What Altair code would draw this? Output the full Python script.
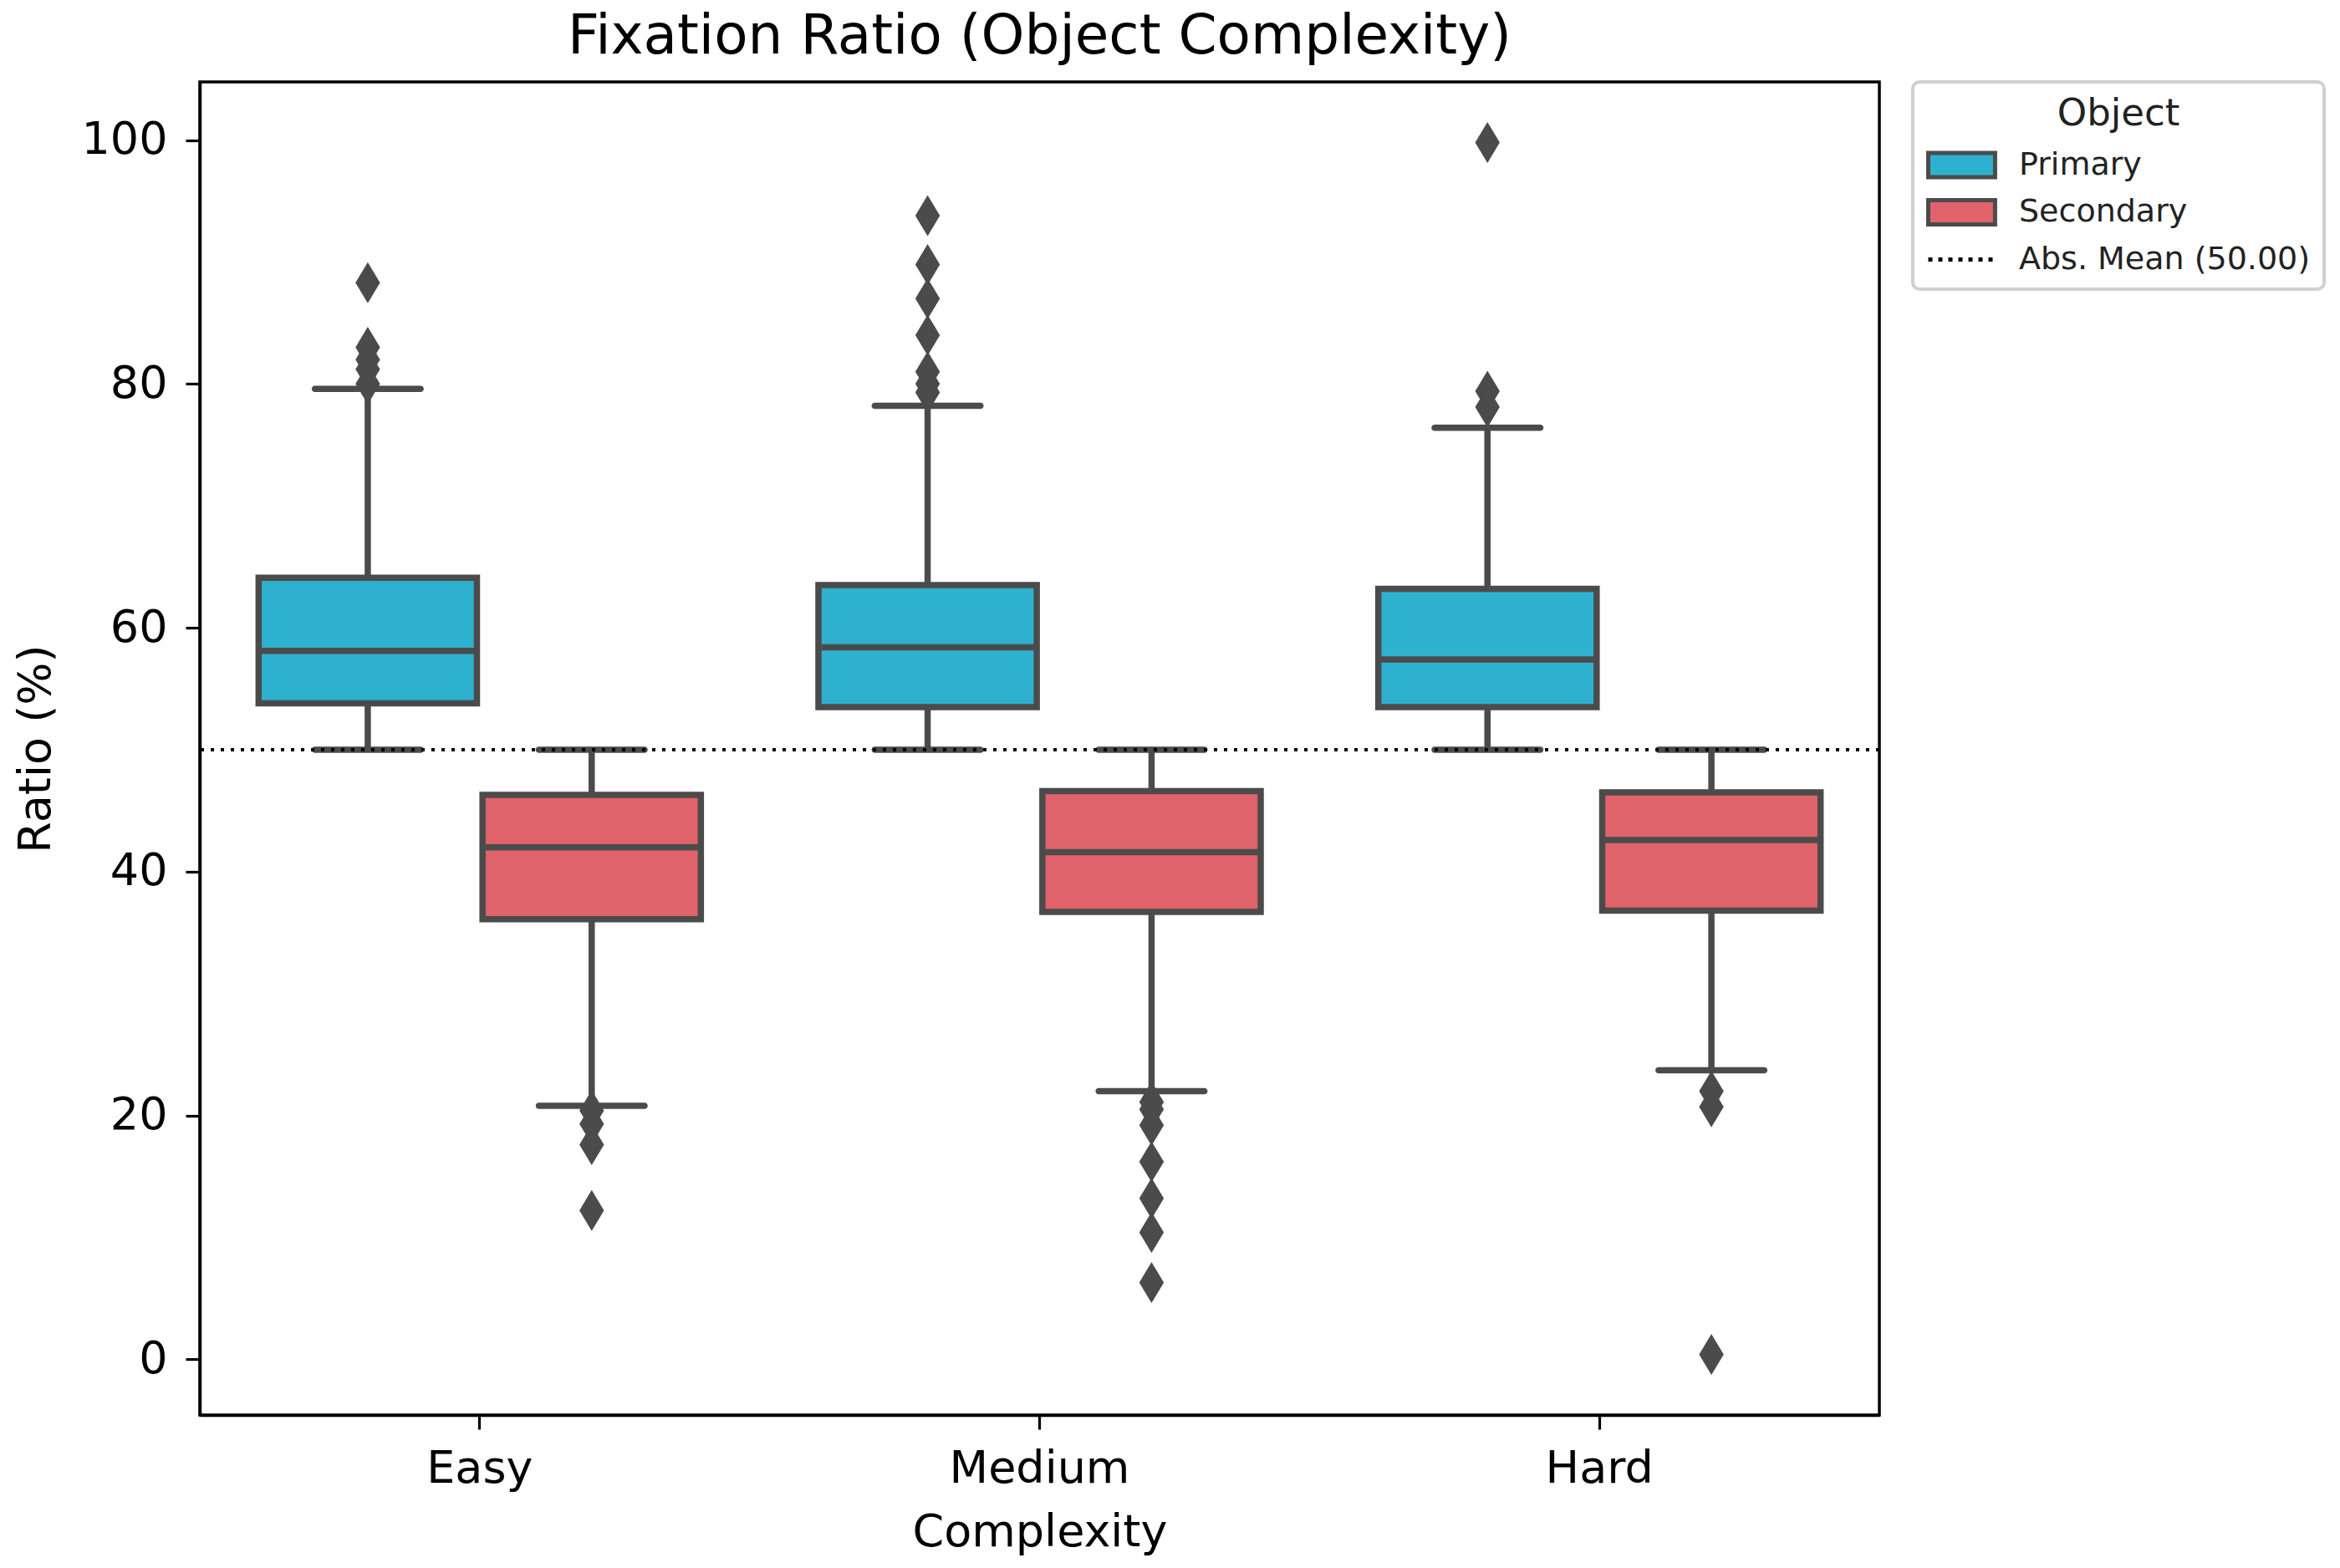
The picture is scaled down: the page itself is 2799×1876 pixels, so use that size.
import altair as alt
import pandas as pd

# ---------------- data ----------------
complexity = ["Easy", "Medium", "Hard"]
objects = ["Primary", "Secondary"]
mean_label = "Abs. Mean (50.00)"
abs_mean = [50.0]

# order: Easy-Primary, Easy-Secondary, Medium-Primary, Medium-Secondary, Hard-Primary, Hard-Secondary
box_complexity = ["Easy", "Easy", "Medium", "Medium", "Hard", "Hard"]
box_object = ["Primary", "Secondary", "Primary", "Secondary", "Primary", "Secondary"]
q1 = [53.8, 36.1, 53.5, 36.7, 53.5, 36.8]
median = [58.1, 42.0, 58.4, 41.6, 57.4, 42.6]
q3 = [64.1, 46.3, 63.5, 46.6, 63.2, 46.5]
whisker_low = [50.0, 20.8, 50.0, 22.0, 50.0, 23.7]
whisker_high = [79.6, 50.0, 78.2, 50.0, 76.4, 50.0]

out_easy_primary = [88.3, 83.0, 82.0, 81.2, 80.0]
out_easy_secondary = [20.4, 19.3, 17.6, 12.2]
out_medium_primary = [93.8, 89.8, 87.0, 84.0, 81.0, 80.0, 79.3]
out_medium_secondary = [21.1, 20.5, 19.2, 16.2, 13.2, 10.4, 6.3]
out_hard_primary = [99.8, 79.4, 78.1]
out_hard_secondary = [22.0, 20.7, 0.4]

# ---------------- styling ----------------
FONT = "DejaVu Sans"
GRAY = "#4b4b4b"
C_PRIMARY = "#2EB0CF"
C_SECONDARY = "#E0636B"
LW = 7.5

W, H = 2009, 1595

# ---------------- tables ----------------
boxes = pd.DataFrame({
    "Complexity": box_complexity, "Object": box_object,
    "q1": q1, "median": median, "q3": q3, "lo": whisker_low, "hi": whisker_high,
})

wh_rows = []
for c, o, a, b, lo, hi in zip(box_complexity, box_object, q1, q3, whisker_low, whisker_high):
    wh_rows.append({"Complexity": c, "Object": o, "y": lo, "y2": a})
    wh_rows.append({"Complexity": c, "Object": o, "y": b, "y2": hi})
whiskers = pd.DataFrame(wh_rows)

caps = pd.DataFrame({
    "Complexity": box_complexity * 2, "Object": box_object * 2,
    "v": whisker_low + whisker_high,
})

out_lists = {
    ("Easy", "Primary"): out_easy_primary, ("Easy", "Secondary"): out_easy_secondary,
    ("Medium", "Primary"): out_medium_primary, ("Medium", "Secondary"): out_medium_secondary,
    ("Hard", "Primary"): out_hard_primary, ("Hard", "Secondary"): out_hard_secondary,
}
out_rows = []
for (c, o), vals in out_lists.items():
    for v in vals:
        out_rows.append({"Complexity": c, "Object": o, "v": v})
outliers = pd.DataFrame(out_rows)

mean_df = pd.DataFrame({"mean": abs_mean})
legend_df = pd.DataFrame({"Object": objects + [mean_label]})

all_vals = q1 + median + q3 + whisker_low + whisker_high + list(outliers["v"])
vmin, vmax = min(all_vals), max(all_vals)
margin = 0.05 * (vmax - vmin)
y_domain = [vmin - margin, vmax + margin]

# ---------------- encodings ----------------
x_enc = alt.X("Complexity:N", sort=complexity,
              scale=alt.Scale(domain=complexity, paddingInner=0, paddingOuter=0),
              axis=alt.Axis(title="Complexity", labelAngle=0, labelLimit=0))
xo_enc = alt.XOffset("Object:N", sort=objects,
                     scale=alt.Scale(domain=objects, paddingInner=0.025, paddingOuter=0.2625))
y_scale = alt.Scale(domain=y_domain, nice=False, zero=False)
y_axis = alt.Axis(title="Ratio (%)", values=[0, 20, 40, 60, 80, 100])

legend_domain = objects + [mean_label]
legend_def = alt.Legend(
    title="Object",
    orient="right",
    offset=40,
    padding=16,
    strokeColor="#d0d0d0",
    cornerRadius=8,
    fillColor="white",
    titleAnchor="middle",
    titleFontSize=45,
    titleFontWeight="normal",
    titleColor="#222222",
    titleFont=FONT,
    titlePadding=12,
    labelFontSize=38,
    labelFont=FONT,
    labelColor="#222222",
    labelOffset=58,
    labelLimit=0,
    symbolSize=2304,
    symbolStrokeWidth=5,
    symbolOpacity=1,
    rowPadding=5.5,
)

fill_scale = alt.Scale(domain=legend_domain, range=[C_PRIMARY, C_SECONDARY, "transparent"])
rect_path = "M-1,-0.6H2.33V0.6H-1Z"
line_path = "M-1,0H2.33"
diamond_path = "M0,-1L0.6,0L0,1L-0.6,0Z"

base_whisk = alt.Chart(whiskers).mark_rule(color=GRAY, strokeWidth=LW).encode(
    x=x_enc, xOffset=xo_enc,
    y=alt.Y("y:Q", scale=y_scale, axis=y_axis), y2="y2:Q",
)

cap_layer = alt.Chart(caps).mark_tick(color=GRAY, size=134, thickness=LW, cornerRadius=3.75, opacity=1).encode(
    x=x_enc, xOffset=xo_enc, y=alt.Y("v:Q", scale=y_scale),
)

box_layer = alt.Chart(boxes).mark_bar(stroke=GRAY, strokeWidth=LW, opacity=1).encode(
    x=x_enc, xOffset=xo_enc,
    y=alt.Y("q1:Q", scale=y_scale), y2="q3:Q",
    fill=alt.Fill("Object:N", scale=fill_scale, legend=legend_def),
)

median_layer = alt.Chart(boxes).mark_tick(color=GRAY, size=262, thickness=LW, opacity=1).encode(
    x=x_enc, xOffset=xo_enc, y=alt.Y("median:Q", scale=y_scale),
)

outlier_layer = alt.Chart(outliers).mark_point(
    shape=diamond_path, filled=True, size=2401, color=GRAY, opacity=1
).encode(
    x=x_enc, xOffset=xo_enc, y=alt.Y("v:Q", scale=y_scale),
)

mean_layer = alt.Chart(mean_df).mark_rule(color="black", strokeWidth=4, strokeDash=[4, 8]).encode(
    y=alt.Y("mean:Q", scale=y_scale),
)

legend_layer = alt.Chart(legend_df).mark_point(filled=True, opacity=0).encode(
    fill=alt.Fill("Object:N", scale=fill_scale, legend=legend_def),
    stroke=alt.Stroke("Object:N", scale=alt.Scale(domain=legend_domain, range=[GRAY, GRAY, "black"]),
                      legend=legend_def),
    shape=alt.Shape("Object:N", scale=alt.Scale(domain=legend_domain, range=[rect_path, rect_path, line_path]),
                    legend=legend_def),
    strokeDash=alt.StrokeDash("Object:N", scale=alt.Scale(domain=legend_domain, range=[[1, 0], [1, 0], [5, 7]]),
                              legend=legend_def),
)

chart = alt.layer(
    base_whisk, cap_layer, box_layer, median_layer, outlier_layer, mean_layer, legend_layer
).properties(
    width=W, height=H,
    title=alt.TitleParams("Fixation Ratio (Object Complexity)", fontSize=66, font=FONT,
                          fontWeight="normal", color="black", anchor="middle", offset=18, frame="group"),
    autosize=alt.AutoSizeParams(type="none"),
    padding={"left": 231, "top": 90, "right": 543, "bottom": 175},
    background="white",
).configure_view(
    stroke="black", strokeWidth=3.5
).configure_axis(
    grid=False,
    domainColor="black", domainWidth=3.5,
    tickColor="black", tickWidth=3.2, tickSize=17,
    labelFont=FONT, labelFontSize=54, labelColor="black",
    titleFont=FONT, titleFontSize=54, titleColor="black", titleFontWeight="normal",
).configure_axisX(
    labelPadding=20, titlePadding=22,
).configure_axisY(
    labelPadding=22, titlePadding=26,
).configure_legend(
    strokeWidth=4,
)

chart.save("out.html", embed_options={"renderer": "svg", "actions": False})
